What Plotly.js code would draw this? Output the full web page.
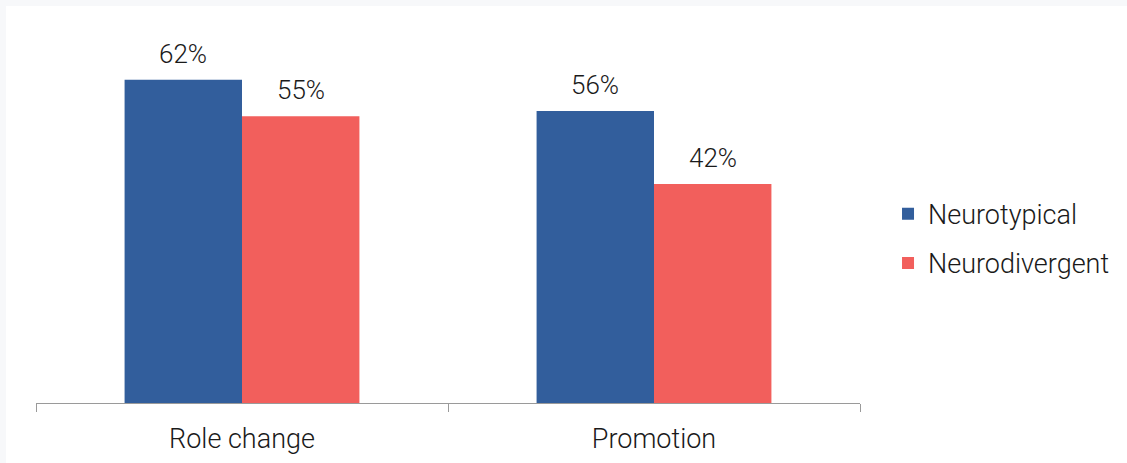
<!DOCTYPE html>
<html>
<head>
<meta charset="utf-8">
<script src="https://cdn.plot.ly/plotly-3.0.1.min.js"></script>
<style>
  html, body { margin: 0; padding: 0; background: #f7f8fa; width: 1127px; height: 463px; overflow: hidden; }
  #chart { position: absolute; left: 6px; top: 6px; width: 1121px; height: 457px; background: #fff; }
</style>
</head>
<body>
<div id="chart"></div>
<script>
const categories = ["Role change", "Promotion"];
const seriesNames = ["Neurotypical", "Neurodivergent"];
const neurotypical = [62, 56];
const neurodivergent = [55, 42];
const seriesColors = ["#325e9c", "#f25f5c"];

const seriesValues = [neurotypical, neurodivergent];
const FONT = "Roboto, 'DejaVu Sans', sans-serif";

const traces = seriesValues.map((vals, i) => ({
  type: "bar",
  name: seriesNames[i],
  x: categories,
  y: vals,
  marker: { color: seriesColors[i] },
  legendgroup: "g" + i,
  hoverinfo: "x+y+name"
}));

const plotW = 824;
const bargap = 0.43;
const catPx = plotW / categories.length;
const barPx = catPx * (1 - bargap) / seriesValues.length;

const annotations = [];
seriesValues.forEach((vals, i) => {
  const shift = (i - (seriesValues.length - 1) / 2) * barPx;
  vals.forEach((v, j) => {
    annotations.push({
      x: categories[j], y: v, xref: "x", yref: "y",
      text: v + "%", showarrow: false,
      xshift: shift, yshift: 26, yanchor: "middle",
      font: { family: FONT, size: 26, color: "#1a1a1a", weight: 300 }
    });
  });
});

const layout = {
  width: 1121, height: 457,
  margin: { l: 30, r: 267, t: 32, b: 60 },
  paper_bgcolor: "#ffffff",
  plot_bgcolor: "#ffffff",
  barmode: "group",
  bargap: bargap,
  bargroupgap: 0,
  showlegend: true,
  legend: {
    x: 1.034, xanchor: "left", y: 0.45, yanchor: "middle",
    font: { family: FONT, size: 27, color: "#1a1a1a", weight: 300 },
    traceorder: "grouped", tracegroupgap: 11,
    bgcolor: "rgba(0,0,0,0)"
  },
  xaxis: {
    type: "category",
    showline: true, linecolor: "#9a9a9a", linewidth: 1,
    ticks: "outside", tickson: "boundaries", ticklen: 8, tickcolor: "#9a9a9a",
    tickfont: { family: FONT, size: 27, color: "#1a1a1a", weight: 300 },
    showgrid: false, zeroline: false,
    ticklabelstandoff: 12
  },
  yaxis: {
    range: [0, 70], visible: false, showgrid: false, zeroline: false
  },
  annotations: annotations,
  font: { family: FONT }
};

Plotly.newPlot("chart", traces, layout, { displayModeBar: false, staticPlot: true });
</script>
</body>
</html>
